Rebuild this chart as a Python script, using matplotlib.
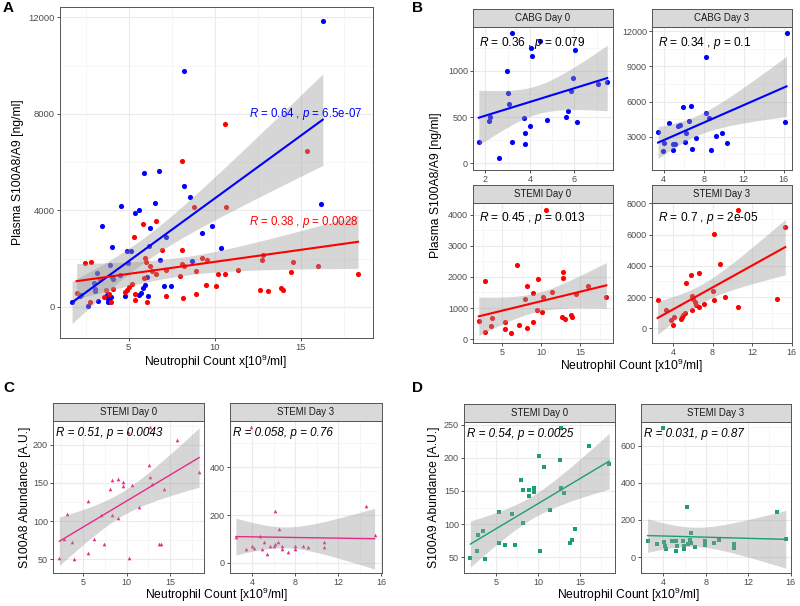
import numpy as np
import matplotlib
matplotlib.use("Agg")
import matplotlib.pyplot as plt
from matplotlib.ticker import MultipleLocator

plt.rcParams['font.family'] = ['Liberation Sans', 'DejaVu Sans']
plt.rcParams['mathtext.fontset'] = 'custom'
plt.rcParams['mathtext.rm'] = 'Liberation Sans'
plt.rcParams['mathtext.it'] = 'Liberation Sans:italic'

# ---- data ----
cabg_d0_x = [3.17, 4.47, 4.04, 6.03, 4.11, 2.97, 5.93, 7.05, 7.47, 5.84, 3.03, 3.06, 2.22,
             2.18, 3.74, 5.73, 5.61, 4.76, 6.12, 3.99, 3.78, 1.70, 3.20, 3.78, 2.61]
cabg_d0_y = [1410, 1320, 1245, 1224, 1155, 993, 917, 859, 877, 780, 762, 643, 495,
             462, 491, 567, 495, 466, 448, 401, 332, 227, 235, 213, 54]

cabg_d3_x = [16.28, 8.19, 5.88, 6.75, 8.19, 8.56, 6.52, 4.57, 5.58, 5.38, 16.15, 3.43, 6.21,
             9.81, 9.27, 7.19, 10.34, 6.15, 4.03, 4.91, 5.11, 8.70, 6.82, 3.93, 4.97]
cabg_d3_y = [11850, 9800, 5540, 5630, 5030, 4570, 4310, 4170, 4030, 3910, 4260, 3370, 3290,
             3340, 3060, 2910, 2430, 2540, 2490, 2340, 2340, 1890, 1940, 1740, 1830]

stemi_d0_x = [10.64, 6.92, 2.82, 12.78, 12.74, 9.53, 8.21, 15.98, 11.37, 8.93, 10.21, 18.33,
              14.44, 7.95, 9.49, 10.09, 12.65, 13.08, 13.85, 13.97, 3.68, 1.97, 3.55, 5.34,
              5.38, 7.18, 8.17, 8.89, 2.74, 6.07]
stemi_d0_y = [4150, 2380, 1860, 2150, 1960, 1930, 1700, 1700, 1530, 1480, 1360, 1360,
              1440, 1280, 930, 880, 710, 650, 770, 720, 690, 590, 410, 540,
              310, 440, 370, 550, 220, 190]

stemi_d3_x = [10.59, 15.34, 8.11, 8.78, 6.61, 5.84, 5.30, 2.46, 14.54, 9.25, 8.08, 8.11,
              10.62, 7.18, 5.97, 6.00, 6.21, 6.37, 6.61, 5.91, 3.33, 5.20, 5.04, 4.77,
              4.90, 4.07, 3.83, 3.97]
stemi_d3_y = [7570, 6450, 6040, 4130, 3570, 3430, 2890, 1830, 1870, 2020, 2360, 1790,
              1360, 1550, 2040, 1870, 1700, 1490, 1360, 1190, 1170, 960, 830, 620,
              720, 750, 550, 210]

a8_d0_x = [12.69, 10.12, 15.85, 18.35, 12.54, 12.73, 12.92, 8.27, 9.0, 9.62, 9.58, 10.65,
           8.08, 14.35, 5.58, 11.38, 3.15, 7.04, 8.31, 9.0, 2.85, 6.23, 3.77, 7.35,
           13.77, 13.96, 5.62, 2.27, 3.92, 10.27]
a8_d0_y = [223, 217, 206, 164, 174, 158, 148, 154, 155, 151, 146, 147,
           142, 142, 126, 118, 109, 108, 108, 104, 76, 76, 72, 70,
           70, 70, 58, 52, 50, 51]

a8_d3_x = [3.88, 14.56, 6.15, 6.52, 15.4, 2.47, 4.75, 5.09, 6.37, 10.67, 3.97, 6.02, 5.65,
           6.12, 6.81, 8.0, 8.75, 9.21, 4.16, 3.38, 4.90, 6.81, 8.0, 10.67, 7.33, 5.34]
a8_d3_y = [569, 240, 219, 142, 116, 107, 114, 86, 86, 88, 72, 71, 72,
           79, 71, 71, 71, 67, 63, 59, 60, 59, 60, 65, 47, 36]

a9_d0_x = [12.68, 16.04, 18.48, 10.08, 10.64, 12.56, 7.92, 8.16, 8.92, 9.48, 9.52, 8.88,
           12.72, 13.04, 11.36, 5.32, 6.88, 8.16, 14.44, 2.8, 3.44, 14.0, 13.84, 5.36,
           6.0, 7.2, 2.68, 10.16, 1.88, 3.6]
a9_d0_y = [245, 217, 191, 203, 186, 197, 166, 152, 152, 155, 149, 143,
           155, 147, 122, 118, 116, 101, 93, 83, 90, 76, 71, 72,
           69, 68, 59, 59, 49, 48]

a9_d3_x = [3.94, 14.72, 6.2, 6.61, 15.54, 2.52, 3.40, 4.06, 4.85, 5.19, 5.82, 6.64, 6.52,
           7.97, 8.79, 9.27, 10.67, 10.67, 7.97, 7.0, 4.16, 4.22, 5.32, 5.95, 5.95, 5.19, 6.3]
a9_d3_y = [697, 242, 268, 131, 95, 88, 70, 79, 84, 84, 84, 75, 90,
           84, 77, 90, 70, 47, 66, 54, 59, 45, 57, 59, 45, 31, 70]

BLUE, RED, PINK, GREEN = '#0000FF', '#FF0000', '#E7298A', '#1B9E77'
W, H = 800, 606


def box(l, t, r, b):
    return [l / W, 1 - b / H, (r - l) / W, (b - t) / H]


def tq(df, z=1.959964):
    # Cornish-Fisher approximation of the 97.5% t quantile
    g1 = (z**3 + z) / 4
    g2 = (5 * z**5 + 16 * z**3 + 3 * z) / 96
    g3 = (3 * z**7 + 19 * z**5 + 17 * z**3 - 15 * z) / 384
    return z + g1 / df + g2 / df**2 + g3 / df**3


def smooth(ax, x, y, color, lw):
    x, y = np.asarray(x, float), np.asarray(y, float)
    n = len(x)
    b, a = np.polyfit(x, y, 1)
    res = y - (a + b * x)
    s = np.sqrt(np.sum(res**2) / (n - 2))
    xs = np.linspace(x.min(), x.max(), 80)
    se = s * np.sqrt(1 / n + (xs - x.mean())**2 / np.sum((x - x.mean())**2))
    fit = a + b * xs
    t = tq(n - 2)
    ax.fill_between(xs, fit - t * se, fit + t * se, color='#999999', alpha=0.4, lw=0, zorder=3)
    ax.plot(xs, fit, color=color, lw=lw, zorder=4)


def style(ax, xlim, ylim, xmaj, ymaj, fs=6.5):
    ax.set_xlim(xlim)
    ax.set_ylim(ylim)
    ax.xaxis.set_major_locator(MultipleLocator(xmaj))
    ax.yaxis.set_major_locator(MultipleLocator(ymaj))
    ax.xaxis.set_minor_locator(MultipleLocator(xmaj / 2))
    ax.yaxis.set_minor_locator(MultipleLocator(ymaj / 2))
    ax.grid(which='major', color='#EBEBEB', lw=0.8, zorder=0)
    ax.grid(which='minor', color='#F2F2F2', lw=0.45, zorder=0)
    ax.set_axisbelow(True)
    ax.tick_params(which='major', length=2.5, width=0.6, color='#333333',
                   labelcolor='#4D4D4D', labelsize=fs, pad=1.2)
    ax.tick_params(which='minor', length=0)
    for sp in ax.spines.values():
        sp.set_color('#555555')
        sp.set_linewidth(0.7)


def strip(l, t, r, b, label):
    s = fig.add_axes(box(l, t, r, b))
    s.set_facecolor('#D9D9D9')
    s.set_xticks([])
    s.set_yticks([])
    for sp in s.spines.values():
        sp.set_color('#555555')
        sp.set_linewidth(0.7)
    s.text(0.5, 0.5, label, ha='center', va='center', fontsize=6.9, color='#1A1A1A')


fig = plt.figure(figsize=(8, 6.06), dpi=100)

# ---- Panel A ----
ax = fig.add_axes(box(60, 7, 373, 338))
cabg_x = cabg_d0_x + cabg_d3_x
cabg_y = cabg_d0_y + cabg_d3_y
stemi_x = stemi_d0_x + stemi_d3_x
stemi_y = stemi_d0_y + stemi_d3_y
ax.plot(cabg_x, cabg_y, 'o', color=BLUE, ms=3.7, mew=0, zorder=2)
ax.plot(stemi_x, stemi_y, 'o', color=RED, ms=3.7, mew=0, zorder=2)
smooth(ax, cabg_x, cabg_y, BLUE, 1.5)
smooth(ax, stemi_x, stemi_y, RED, 1.5)
style(ax, (1.0, 19.2), (-1285, 12435), 5, 4000, fs=6.8)
ax.text(12.0, 7990, r"$\mathit{R}$ = 0.64 , $\mathit{p}$ = 6.5e-07", color=BLUE,
        fontsize=8.3, va='center', ha='left')
ax.text(12.0, 3540, r"$\mathit{R}$ = 0.38 , $\mathit{p}$ = 0.0028", color=RED,
        fontsize=8.3, va='center', ha='left')
fig.text(216 / W, 1 - 362 / H, r"Neutrophil Count x[10$^9$/ml]", ha='center', va='center', fontsize=8.7)
fig.text(18 / W, 1 - 172 / H, "Plasma S100A8/A9 [ng/ml]", ha='center', va='center',
         rotation=90, fontsize=8.7)

# ---- Panel B ----
b_panels = [
    ((473, 27, 613, 170), 'CABG Day 0', cabg_d0_x, cabg_d0_y, BLUE, (1.44, 7.73), (-72, 1472), 2, 500,
     r"$\mathit{R}$ = 0.36 , $\mathit{p}$ = 0.079"),
    ((652, 27, 792, 170), 'CABG Day 3', cabg_d3_x, cabg_d3_y, BLUE, (2.82, 16.83), (146, 12377), 4, 3000,
     r"$\mathit{R}$ = 0.34 , $\mathit{p}$ = 0.1"),
    ((473, 203, 613, 343), 'STEMI Day 0', stemi_d0_x, stemi_d0_y, RED, (1.23, 19.18), (-129, 4387), 5, 1000,
     r"$\mathit{R}$ = 0.45 , $\mathit{p}$ = 0.013"),
    ((652, 203, 792, 343), 'STEMI Day 3', stemi_d3_x, stemi_d3_y, RED, (1.89, 16.02), (-933, 8013), 4, 2000,
     r"$\mathit{R}$ = 0.7 , $\mathit{p}$ = 2e-05"),
]
for (l, t, r, b), lab, x, y, c, xl, yl, xm, ym, stat in b_panels:
    ax = fig.add_axes(box(l, t, r, b))
    ax.plot(x, y, 'o', color=c, ms=3.7, mew=0, zorder=2)
    smooth(ax, x, y, c, 1.5)
    style(ax, xl, yl, xm, ym)
    ax.text(0.04, 0.89, stat, transform=ax.transAxes, fontsize=8.6, va='center', ha='left', zorder=5)
    strip(l, t - 18, r, t, lab)
fig.text(632 / W, 1 - 366 / H, r"Neutrophil Count [x10$^9$/ml]", ha='center', va='center', fontsize=8.7)
fig.text(436 / W, 1 - 185 / H, "Plasma S100A8/A9 [ng/ml]", ha='center', va='center',
         rotation=90, fontsize=8.7)

# ---- Panels C and D ----
cd_panels = [
    ((53, 421, 204, 573), 'STEMI Day 0', a8_d0_x, a8_d0_y, PINK, '^', (1.54, 18.91), (31.7, 231.4), 5, 50,
     "R = 0.51, p = 0.0043"),
    ((230, 421, 382, 573), 'STEMI Day 3', a8_d3_x, a8_d3_y, PINK, '^', (1.92, 16.09), (-42, 594), 4, 200,
     "R = 0.058, p = 0.76"),
    ((464, 422, 615, 573), 'STEMI Day 0', a9_d0_x, a9_d0_y, GREEN, 's', (1.12, 19.18), (26.4, 253.8), 5, 50,
     "R = 0.54, p = 0.0025"),
    ((641, 422, 791, 573), 'STEMI Day 3', a9_d3_x, a9_d3_y, GREEN, 's', (1.9, 16.03), (-86, 728), 4, 200,
     "R = 0.031, p = 0.87"),
]
for (l, t, r, b), lab, x, y, c, mk, xl, yl, xm, ym, stat in cd_panels:
    ax = fig.add_axes(box(l, t, r, b))
    ax.plot(x, y, mk, color=c, ms=2.6 if mk == '^' else 2.2, mew=0, zorder=2)
    smooth(ax, x, y, c, 1.0)
    style(ax, xl, yl, xm, ym)
    ax.text(0.02, 0.92, stat, transform=ax.transAxes, fontsize=8.4, style='italic',
            va='center', ha='left', zorder=5)
    strip(l, t - 18, r, t, lab)

fig.text(217 / W, 1 - 595 / H, r"Neutrophil Count [x10$^9$/ml]", ha='center', va='center', fontsize=8.7)
fig.text(629 / W, 1 - 595 / H, r"Neutrophil Count [x10$^9$/ml]", ha='center', va='center', fontsize=8.7)
fig.text(25 / W, 1 - 497 / H, "S100A8 Abundance [A.U.]", ha='center', va='center',
         rotation=90, fontsize=8.7)
fig.text(434 / W, 1 - 497 / H, "S100A9 Abundance [A.U.]", ha='center', va='center',
         rotation=90, fontsize=8.7)

# panel letters
for lx, ly, letter in [(3, 8, 'A'), (412, 8, 'B'), (3, 388, 'C'), (412, 388, 'D')]:
    fig.text(lx / W, 1 - ly / H, letter, ha='left', va='center', fontsize=11, fontweight='bold')

fig.savefig('out.png', dpi=100)
